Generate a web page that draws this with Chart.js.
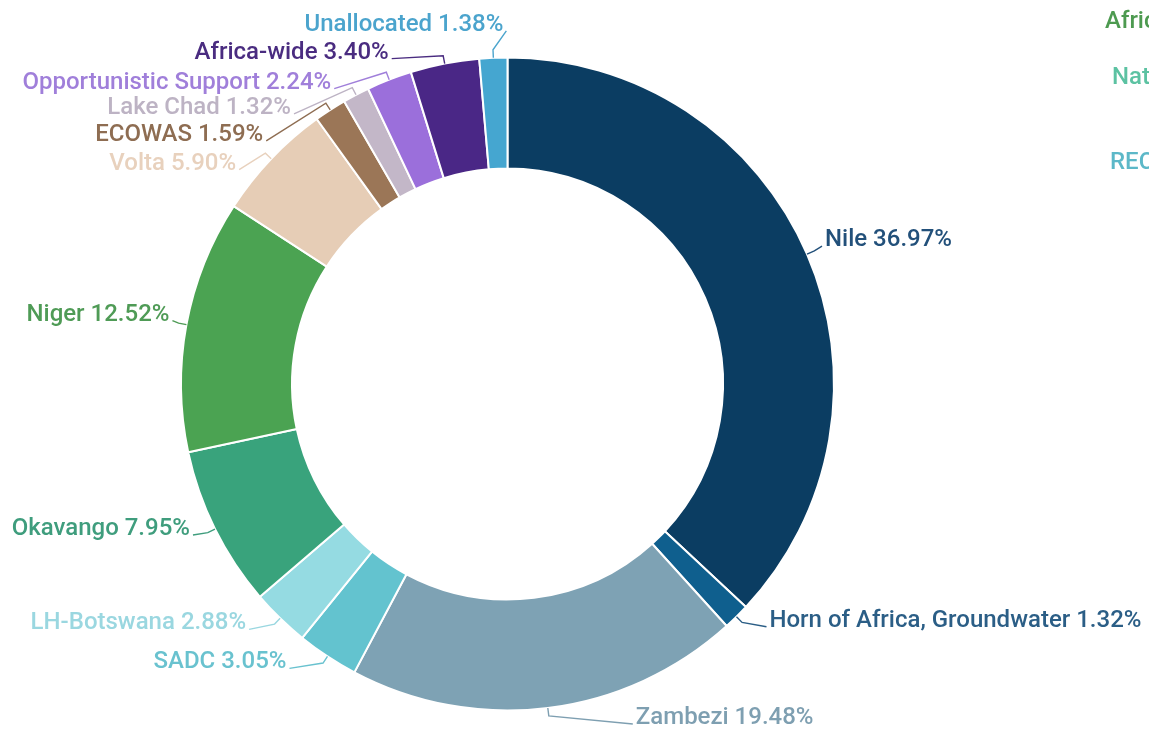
<!DOCTYPE html>
<html>
<head>
<meta charset="utf-8">
<script src="https://cdn.jsdelivr.net/npm/chart.js@4/dist/chart.umd.min.js"></script>
<style>
  html, body { margin: 0; padding: 0; background: #fff; }
  #wrap { position: relative; width: 1149px; height: 732px; }
</style>
</head>
<body>
<div id="wrap"><canvas id="chart"></canvas></div>
<script>
const categories = ['Nile', 'Horn of Africa, Groundwater', 'Zambezi', 'SADC', 'LH-Botswana', 'Okavango',
    'Niger', 'Volta', 'ECOWAS', 'Lake Chad', 'Opportunistic Support', 'Africa-wide', 'Unallocated'];
const shares = [36.97, 1.32, 19.48, 3.05, 2.88, 7.95, 12.52, 5.90, 1.59, 1.32, 2.24, 3.40, 1.38];
const otherSeries = ['Africa-wide', 'National', 'RECs'];

const sliceColors = ['#0b3d62', '#0f5f8e', '#7ea2b4', '#63c3cf', '#95dbe2', '#39a37c',
    '#4ba352', '#e6cdb6', '#9b7657', '#c3b7c8', '#9b6fdb', '#4a2786', '#45a6d0'];
const textColors = ['#22507a', '#2b5e86', '#7e9fb1', '#69c2cf', '#9ad7e0', '#3f9d7d',
    '#4f9b56', '#e8d1bd', '#8e6d52', '#bdb3c4', '#a07fda', '#4a2c80', '#4ba4cd'];
const otherColors = ['#4d9a50', '#5cc2a2', '#5cb8c8'];

// where each label sits, relative to the middle of its slice's outer edge
const labelLayout = [
    { dx: 18, dy: -14, align: 'left' },
    { dx: 33, dy: 4, align: 'left' },
    { dx: 88, dy: 10, align: 'left' },
    { dx: -41, dy: 6, align: 'right' },
    { dx: -34, dy: 5, align: 'right' },
    { dx: -25, dy: 0, align: 'right' },
    { dx: -17, dy: -10, align: 'right' },
    { dx: -35, dy: 5, align: 'right' },
    { dx: -67, dy: 25, align: 'right' },
    { dx: -65, dy: 13, align: 'right' },
    { dx: -58, dy: 3, align: 'right' },
    { dx: -56, dy: -11, align: 'right' },
    { dx: 10, dy: -33, align: 'right' }
];
const otherLayout = [[1105, 22], [1112, 78], [1110, 163]];

const labelFont = '500 24px Roboto, "Noto Sans", sans-serif';

const outsideLabels = {
    id: 'outsideLabels',
    afterDraw(chart) {
        const ctx = chart.ctx;
        const arcs = chart.getDatasetMeta(0).data;
        ctx.save();
        ctx.font = labelFont;
        ctx.textBaseline = 'middle';
        ctx.lineWidth = 1.4;
        arcs.forEach((arc, i) => {
            const p = arc.getProps(['x', 'y', 'startAngle', 'endAngle', 'outerRadius'], true);
            const mid = (p.startAngle + p.endAngle) / 2;
            const ax = p.x + Math.cos(mid) * p.outerRadius;
            const ay = p.y + Math.sin(mid) * p.outerRadius;
            const ex = p.x + Math.cos(mid) * (p.outerRadius + 8);
            const ey = p.y + Math.sin(mid) * (p.outerRadius + 8);
            const lay = labelLayout[i];
            const tx = ax + lay.dx;
            const ty = ay + lay.dy;
            const endX = lay.align === 'left' ? tx - 3 : tx + 3;
            ctx.strokeStyle = textColors[i];
            ctx.beginPath();
            ctx.moveTo(ax, ay);
            ctx.lineTo(ex, ey);
            ctx.lineTo(endX, ty + 6);
            ctx.stroke();
            ctx.fillStyle = textColors[i];
            ctx.textAlign = lay.align;
            ctx.fillText(categories[i] + ' ' + shares[i].toFixed(2) + '%', tx, ty);
        });
        ctx.textAlign = 'left';
        otherSeries.forEach((name, i) => {
            ctx.fillStyle = otherColors[i];
            ctx.fillText(name, otherLayout[i][0], otherLayout[i][1]);
        });
        ctx.restore();
    }
};

const ctx = document.getElementById('chart').getContext('2d');
new Chart(ctx, {
    type: 'doughnut',
    data: {
        labels: categories,
        datasets: [{
            data: shares,
            backgroundColor: sliceColors,
            borderColor: '#ffffff',
            borderWidth: 2
        }]
    },
    options: {
        responsive: true,
        maintainAspectRatio: false,
        animation: false,
        cutout: '66%',
        layout: {
            padding: { left: 180, right: 314, top: 56, bottom: 20 }
        },
        plugins: {
            legend: { display: false },
            tooltip: { enabled: false }
        }
    },
    plugins: [outsideLabels]
});
</script>
</body>
</html>
